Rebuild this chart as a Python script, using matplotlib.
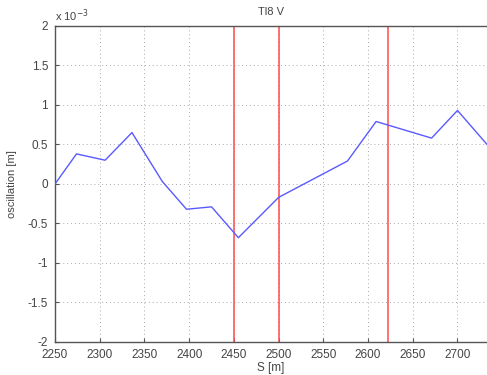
import matplotlib
matplotlib.use('Agg')
import matplotlib.pyplot as plt
from matplotlib.ticker import FuncFormatter

# 轨道位置 S [m] 与振荡量 [m]
s_pos = [2250, 2274, 2306, 2336, 2370, 2397, 2425, 2455, 2500, 2577, 2609, 2671, 2700, 2733]
osc = [0.0, 0.38e-3, 0.30e-3, 0.65e-3, 0.03e-3, -0.32e-3, -0.29e-3, -0.68e-3,
       -0.17e-3, 0.29e-3, 0.79e-3, 0.58e-3, 0.93e-3, 0.50e-3]

# 红色竖线位置
markers = [2450, 2500, 2622]

plt.rcParams['font.family'] = ['Liberation Sans', 'DejaVu Sans']
gray = '#555555'

fig = plt.figure(figsize=(4.87, 3.75), dpi=100)
ax = fig.add_axes([0.113, 0.088, 0.887, 0.843])

ax.plot(s_pos, osc, color='#5a5aff', linewidth=1.0, zorder=3)
for m in markers:
    ax.axvline(m, color='#ff4a4a', linewidth=1.1, zorder=2)

ax.set_xlim(2250, 2733)
ax.set_ylim(-2e-3, 2e-3)
ax.set_xticks(range(2250, 2701, 50))
ax.set_yticks([i * 0.5e-3 for i in range(-4, 5)])
ax.yaxis.set_major_formatter(FuncFormatter(lambda v, p: f'{v * 1e3:g}'))

ax.grid(True, linestyle=(0, (1, 3)), color='#aaaaaa', linewidth=0.7)
ax.tick_params(direction='in', colors=gray, labelsize=8.5, length=3, labelcolor='#444444', pad=5)
for side in ['left', 'bottom', 'top']:
    ax.spines[side].set_color(gray)
    ax.spines[side].set_linewidth(1.0)
ax.spines['right'].set_visible(False)

ax.set_title('Tl8 V', fontsize=8, color='#444444', pad=8)
ax.set_xlabel('S [m]', fontsize=8.5, color='#444444', labelpad=1)
ax.set_ylabel('oscillation [m]', fontsize=8, color='#444444', labelpad=8)
ax.text(0.0, 1.005, r'x 10$^{-3}$', transform=ax.transAxes, fontsize=8,
        color='#444444', ha='left', va='bottom')

plt.savefig('out.png', dpi=100)
